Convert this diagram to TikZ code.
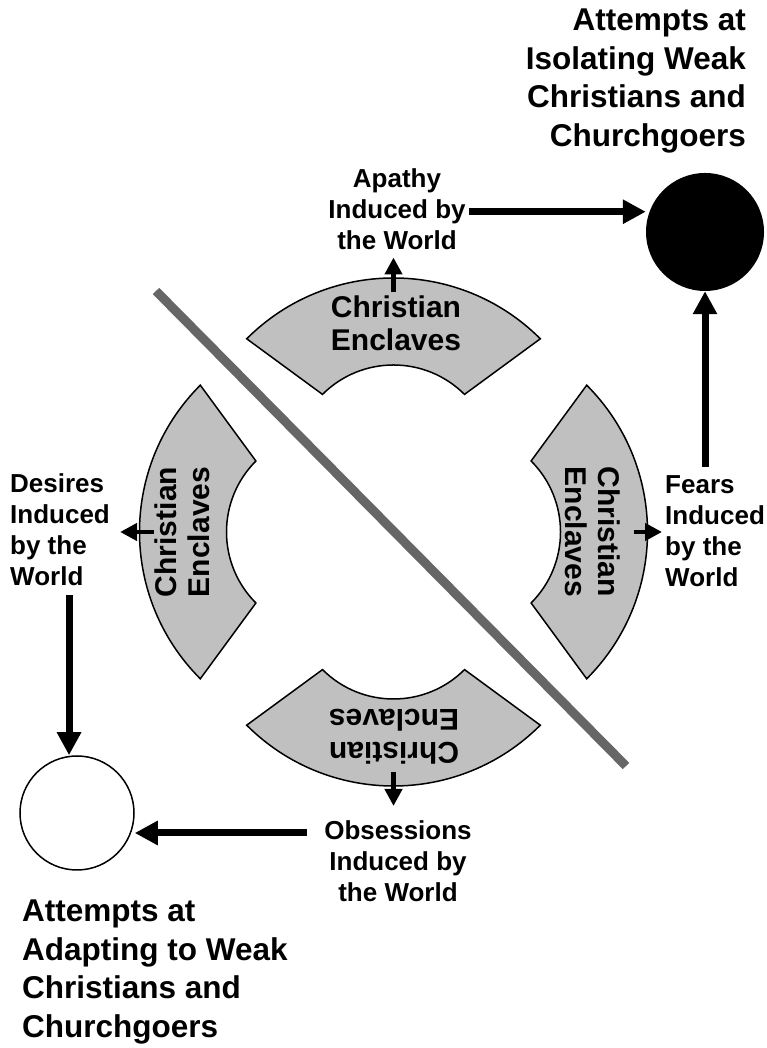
\documentclass[tikz,border=0pt]{standalone}
\usepackage{fontspec}
\setmainfont{Liberation Sans}
\usetikzlibrary{arrows.meta,calc}
\definecolor{segfill}{HTML}{C0C0C0}
\definecolor{divider}{HTML}{666666}

\begin{document}
\begin{tikzpicture}[x=1pt,y=1pt,
  segment/.style={fill=segfill,draw=black,line width=1.5pt},
  segtext/.style={font=\fontsize{30}{33}\selectfont\bfseries,align=center,inner sep=0pt},
  lbl/.style={font=\fontsize{26}{31}\selectfont\bfseries,inner sep=0pt},
  title/.style={font=\fontsize{31.5}{38.5}\selectfont\bfseries,inner sep=0pt},
  bigarrow/.style={line width=7pt,-{Triangle[length=23pt,width=23pt]}},
  smallarrow/.style={line width=4.5pt,-{Triangle[length=17pt,width=17pt]}},
  divline/.style={line width=9pt,draw=divider},
]
\useasboundingbox (0,0) rectangle (767,1048);

% diagonal divider
\coordinate (dv0) at (156,757);
\coordinate (dv1) at (626,282);
\draw[divline] (dv0) -- (dv1);

% four arc segments around the ring centre
\coordinate (ctr) at (393.5,516);
\foreach \ang/\nm in {0/T,90/L,180/B,-90/R}{
  \begin{scope}[shift={(ctr)},rotate=\ang]
    \path[segment] (146.8,193.2) arc[start angle=45,end angle=135,radius=207.6]
      -- (-71,137.6) arc[start angle=135,end angle=45,radius=100.4] -- cycle;
    \coordinate (tip\nm) at (0,240);
  \end{scope}
}

% segment captions
\node[segtext] (segT) at (396,724.5) {Christian\\Enclaves};
\node[segtext,rotate=90] (segL) at (182,516) {Christian\\Enclaves};
\node[segtext,rotate=-90] (segR) at (592.5,516) {Christian\\Enclaves};
\node[segtext,rotate=180] (segB) at (394,311.5) {Christian\\Enclaves};

% influence labels
\node[lbl,align=center,anchor=north] (apathy) at (397,880) {Apathy\\Induced by\\the World};
\node[lbl,align=left,anchor=north west] (desires) at (10,575) {Desires\\Induced\\by the\\World};
\node[lbl,align=left,anchor=north west] (fears) at (665,573) {Fears\\Induced\\by the\\World};
\node[lbl,align=center,anchor=north] (obs) at (398,228) {Obsessions\\Induced by\\the World};

% outcome titles
\node[title,align=right,anchor=north east] (isolate) at (746,1039) {Attempts at\\Isolating Weak\\Christians and\\Churchgoers};
\node[title,align=left,anchor=north west] (adapt) at (22,148) {Attempts at\\Adapting to Weak\\Christians and\\Churchgoers};

% outcome circles
\node[circle,fill=black,minimum size=118pt,inner sep=0pt] (blk) at (705,816) {};
\node[circle,draw=black,line width=1.5pt,fill=white,minimum size=114pt,inner sep=0pt] (wht) at (77,235) {};

% small arrows from the segments to their labels
\draw[smallarrow,shorten >=8pt] (tipT) -- (tipT |- apathy.south);
\draw[smallarrow,shorten >=10pt] (tipL) -- (tipL -| desires.east);
\draw[smallarrow,shorten >=3pt] (tipR) -- (tipR -| fears.west);
\draw[smallarrow,shorten >=14pt] (tipB) -- (tipB |- obs.north);

% big arrows from the labels to the outcomes
\coordinate (a1) at ($(apathy.east)+(3,-3)$);
\draw[bigarrow] (a1) -- (a1 -| blk.west);
\coordinate (f1) at ($(fears.north)+(0,8)$);
\draw[bigarrow] (f1 -| blk.south) -- (blk.south);
\coordinate (d1) at ($(desires.south)+(9,-10)$);
\draw[bigarrow] (d1) -- (d1 |- wht.north);
\coordinate (o1) at ($(obs.north west)+(-17,-13)$);
\draw[bigarrow] (o1) -- (o1 -| wht.east);
\end{tikzpicture}
\end{document}
